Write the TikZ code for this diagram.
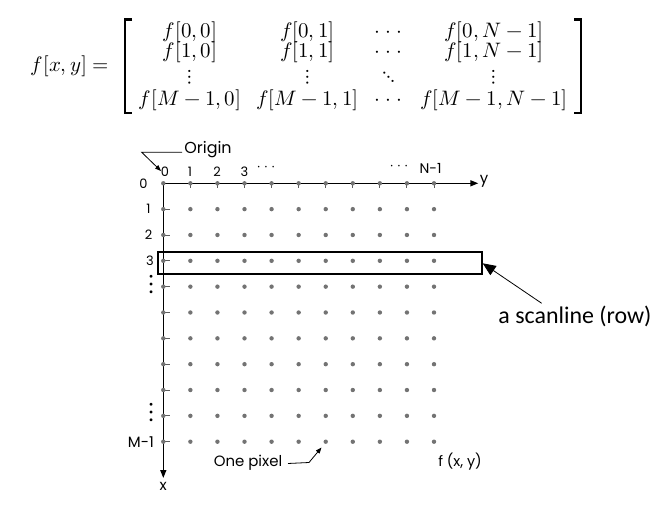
\documentclass[tikz,border=0pt]{standalone}
\usepackage{fontspec}
\usepackage{unicode-math}
\setmathfont{Latin Modern Math}
\newfontfamily\pop{Poppins}
\newfontfamily\carl{Carlito}
\usetikzlibrary{arrows.meta}
\definecolor{dotgray}{HTML}{737373}
\newcommand{\mydots}{{\cdot}\hspace{5.5bp}{\cdot}\hspace{5.5bp}{\cdot}}
\begin{document}
\begin{tikzpicture}[x=1bp,y=-1bp,
  mat/.style={font=\fontsize{21}{25}\selectfont, inner sep=0, anchor=base, text height=11bp, text depth=2bp},
  matd/.style={font=\fontsize{21}{25}\selectfont, inner sep=0},
  pix/.style={circle, fill=dotgray, inner sep=0, minimum size=4.4bp},
  lbl/.style={font=\pop\fontsize{13}{15}\selectfont, inner sep=0},
  txt/.style={font=\pop\fontsize{15}{17}\selectfont, inner sep=0},
  vdt/.style={font=\fontsize{28}{30}\selectfont, inner sep=0},
  brk/.style={line width=2.2bp, line cap=butt},
  axis/.style={line width=1.4bp, -{Triangle[length=8bp,width=6bp]}},
  tick/.style={line width=0.9bp, dotgray!80!black},
  thin/.style={line width=0.8bp}
]
\useasboundingbox (0,0) rectangle (668,505);
% ---------- matrix ----------
\node[mat] (fxy) at (70,72) {$f[x,y] =$};
\node[mat] (m11) at (190,37.5) {$f[0,0]$};
\node[mat] (m12) at (307.5,37.5) {$f[0,1]$};
\node[mat] (m13) at (388.5,37.5) {$\mydots$};
\node[mat] (m14) at (494,37.5) {$f[0,N-1]$};
\node[mat] (m21) at (190,58) {$f[1,0]$};
\node[mat] (m22) at (307.5,58) {$f[1,1]$};
\node[mat] (m23) at (388.5,58) {$\mydots$};
\node[mat] (m24) at (494,58) {$f[1,N-1]$};
\node[matd] (m31) at (190,77) {$\vdots$};
\node[matd] (m32) at (307.5,77) {$\vdots$};
\node[matd] (m33) at (388.5,77) {$\ddots$};
\node[matd] (m34) at (494,77) {$\vdots$};
\node[mat] (m41) at (190,105.5) {$f[M-1,0]$};
\node[mat] (m42) at (307.5,105.5) {$f[M-1,1]$};
\node[mat] (m43) at (388.5,105.5) {$\mydots$};
\node[mat] (m44) at (494,105.5) {$f[M-1,N-1]$};
\coordinate (lbt) at (125,19.5);
\coordinate (lbb) at (125,113.3);
\coordinate (rbt) at (581,19.5);
\coordinate (rbb) at (581,113.3);
\draw[brk] ([xshift=7bp]lbt) -- (lbt) -- (lbb) -- ([xshift=7bp]lbb);
\draw[brk] ([xshift=-7bp]rbt) -- (rbt) -- (rbb) -- ([xshift=-7bp]rbb);
% ---------- grid ----------
\foreach \i in {0,...,10}{
  \foreach \j in {0,...,10}{
    \coordinate (g-\j-\i) at (163.3+27.07*\i, 183.3+25.84*\j);
  }
}
\coordinate (yend) at (478.3,183.3);
\coordinate (xend) at (163.3,478);
\draw[axis] (g-0-0) -- (yend);
\draw[axis] (g-0-0) -- (xend);
\foreach \i in {1,...,10}{ \draw[tick] (g-0-\i) -- ++(0,5); }
\foreach \j in {1,...,10}{ \draw[tick] (g-\j-0) -- ++(6.5,0); }
\foreach \i in {0,...,10}{
  \foreach \j in {0,...,10}{
    \node[pix] (p-\j-\i) at (g-\j-\i) {};
  }
}
\node[lbl, font=\pop\fontsize{15}{17}\selectfont] (ylab) at (484,181) {y};
\node[lbl, font=\pop\fontsize{15}{17}\selectfont] (xlab) at (163.3,486) {x};
% column labels
\node[lbl] (c0) at (165,171.5) {0};
\node[lbl] (c1) at (190,171.5) {1};
\node[lbl] (c2) at (217,171.5) {2};
\node[lbl] (c3) at (244.5,171.5) {3};
\node[lbl] (cd1) at (266,168.5) {·\hspace{4.5bp}·\hspace{4.5bp}·};
\node[lbl] (cd2) at (399,168) {·\hspace{4.5bp}·\hspace{4.5bp}·};
\node[lbl, font=\pop\fontsize{14}{16}\selectfont] (cn) at (430.5,168) {N-1};
% row labels
\node[lbl] (r0) at (143.5,183.3) {0};
\node[lbl] (r1) at (148.5,209.3) {1};
\node[lbl] (r2) at (148.5,234.5) {2};
\node[lbl] (r3) at (150,260.5) {3};
\node[vdt] (rv1) at (151.7,285) {$\vdots$};
\node[vdt] (rv2) at (151.7,413) {$\vdots$};
\node[lbl, anchor=east, font=\pop\fontsize{15}{17}\selectfont] (rm) at (154,441.7) {M-1};
% origin
\node[txt, font=\pop\fontsize{16}{18}\selectfont] (origin) at (208,150) {Origin};
\coordinate (oa) at (182,152.3);
\coordinate (ob) at (141.7,152.3);
\coordinate (ot) at (161,171);
\draw[thin, -{Triangle[length=6bp,width=4.5bp]}] (oa) -- (ob) -- (ot);
% scanline
\node[draw, line width=2bp, minimum width=324bp, minimum height=22bp, inner sep=0] (scan) at (319.7,263.3) {};
\node[font=\carl\fontsize{24}{28}\selectfont, inner sep=0] (stxt) at (575,316.7) {a scanline (row)};
\coordinate (sa) at (541.7,303.3);
\draw[thin, -{Triangle[length=13bp,width=11bp]}] (sa) -- (scan.east);
% one pixel
\node[txt] (op) at (248,463) {One pixel};
\coordinate (pa) at (288,463.5);
\coordinate (pb) at (309,462.5);
\coordinate (pc) at (321.5,447.5);
\draw[thin, -{Triangle[length=6bp,width=4.5bp]}] (pa) -- (pb) -- (pc);
\node[txt, font=\pop\fontsize{14.5}{17}\selectfont] (fl) at (460,461.7) {f (x, y)};
\end{tikzpicture}
\end{document}
